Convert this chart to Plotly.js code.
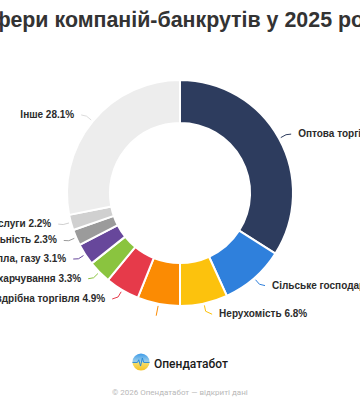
<!DOCTYPE html>
<html>
<head>
<meta charset="utf-8">
<script src="https://cdn.plot.ly/plotly-3.0.1.min.js"></script>
<style>
html,body{margin:0;padding:0;background:#fff;}
#chart{width:360px;height:400px;}
</style>
</head>
<body>
<div id="chart"></div>
<script>
const categories = [
  "Оптова торгівля",
  "Сільське господарство",
  "Нерухомість",
  "Будівництво",
  "Роздрібна торгівля",
  "Розміщення і харчування",
  "Постачання електроенергії, тепла, газу",
  "Професійна діяльність",
  "Інші послуги",
  "Інше"
];
const shares = [34.0, 9.2, 6.8, 6.1, 4.9, 3.3, 3.1, 2.3, 2.2, 28.1];
const sliceColors = ["#2d3c5e", "#2f80dc", "#fcc20d", "#fb8b03", "#e63a4a", "#8ac43f", "#67479b", "#9b9b9b", "#d0d0d0", "#ededed"];

const titleText = "Сфери компаній-банкрутів у 2025 році";
const brandText = "Опендатабот";
const footerText = "© 2026 Опендатабот — відкриті дані";

const W = 360, H = 400;
const PAD = 4;
const NB = "\u00A0".repeat(PAD);
const total = shares.reduce((a, b) => a + b, 0);
const midFrac = [];
shares.reduce((c, v) => { midFrac.push((c + v / 2) / total); return c + v; }, 0);
const onRight = midFrac.map(f => f < 0.5);
const labelTemplates = categories.map((c, i) => i === 3 ? "" :
  (onRight[i] ? NB + "%{label} %{value:.1f}%" : "%{label} %{value:.1f}%" + NB));

const donutDomain = {x: [0.186, 0.814], y: [0.235, 0.80]};
const labelDomain = {x: [0.1694, 0.8306], y: [0.222, 0.817]};

const logoSvg = '<svg xmlns="http://www.w3.org/2000/svg" width="40" height="40" viewBox="0 0 40 40">' +
  '<defs><linearGradient id="g" x1="0" y1="0" x2="0" y2="1">' +
  '<stop offset="0" stop-color="#3d9be9"/><stop offset="0.48" stop-color="#9fd0ea"/><stop offset="0.56" stop-color="#f5dc6a"/><stop offset="1" stop-color="#f6c324"/></linearGradient></defs>' +
  '<circle cx="20" cy="20" r="19" fill="url(#g)"/>' +
  '<polyline points="1,21 12,21 15,15 19,29 23,11 26,21 39,21" fill="none" stroke="#2b8bd6" stroke-width="2.2" stroke-linejoin="round"/>' +
  '</svg>';
const logoSrc = "data:image/svg+xml;base64," + btoa(logoSvg);

const labelFont = {family: "Liberation Sans, Arial, sans-serif", size: 10, color: "#2b2b2b", weight: "bold"};

const labelTrace = {
  type: "pie",
  labels: categories,
  values: shares,
  sort: false,
  direction: "clockwise",
  rotation: 0,
  marker: {colors: categories.map(() => "rgba(0,0,0,0)"), line: {width: 0}},
  texttemplate: labelTemplates,
  textposition: "outside",
  outsidetextfont: labelFont,
  automargin: false,
  hoverinfo: "skip",
  showlegend: false,
  domain: labelDomain
};

const donutTrace = {
  type: "pie",
  labels: categories,
  values: shares,
  sort: false,
  direction: "clockwise",
  rotation: 0,
  hole: 0.62,
  marker: {colors: sliceColors, line: {color: "#ffffff", width: 2}},
  textinfo: "none",
  automargin: false,
  hoverinfo: "skip",
  showlegend: false,
  domain: donutDomain
};

const layout = {
  width: W,
  height: H,
  margin: {l: 0, r: 0, t: 0, b: 0},
  paper_bgcolor: "#ffffff",
  showlegend: false,
  title: {
    text: titleText,
    font: {family: "Liberation Sans, Arial, sans-serif", size: 21.4, color: "#333333", weight: "bold"},
    x: 0.5, xanchor: "center", xref: "paper",
    y: 0.95, yanchor: "middle", yref: "container"
  },
  images: [{
    source: logoSrc, xref: "paper", yref: "paper",
    x: 0.3917, y: 0.095, sizex: 0.05, sizey: 0.045,
    xanchor: "center", yanchor: "middle", layer: "above"
  }],
  annotations: [
    {text: brandText, xref: "paper", yref: "paper", x: 0.422, y: 0.091, xanchor: "left", yanchor: "middle",
     showarrow: false, font: {family: "Roboto, Arial, sans-serif", size: 12, color: "#1a1a1a", weight: 500}},
    {text: footerText, xref: "paper", yref: "paper", x: 0.5, y: 0.02, xanchor: "center", yanchor: "middle",
     showarrow: false, font: {family: "Roboto, Arial, sans-serif", size: 8, color: "#b8b8b8"}}
  ]
};

Plotly.newPlot("chart", [labelTrace, donutTrace], layout, {displayModeBar: false, staticPlot: true}).then(gd => {
  const svgRect = gd.querySelector(".main-svg").getBoundingClientRect();
  const cx = W * (donutDomain.x[0] + donutDomain.x[1]) / 2;
  const cy = H * (1 - (donutDomain.y[0] + donutDomain.y[1]) / 2);
  const R = Math.min(W * (donutDomain.x[1] - donutDomain.x[0]), H * (donutDomain.y[1] - donutDomain.y[0])) / 2;
  const slices = gd.querySelectorAll(".pielayer .trace")[0].querySelectorAll("g.slice");
  const shapes = [];
  shares.forEach((v, i) => {
    const th = 2 * Math.PI * midFrac[i];
    const sx = Math.sin(th), sy = -Math.cos(th);
    const x0 = cx + (R + 2) * sx, y0 = cy + (R + 2) * sy;
    const x1 = cx + (R + 8) * sx, y1 = cy + (R + 8) * sy;
    let pts;
    const t = slices[i] ? slices[i].querySelector("text.slicetext") : null;
    if (t && t.textContent.trim()) {
      const b = t.getBoundingClientRect();
      const n = t.textContent.length;
      let padW = PAD * 2.78;
      try { padW = onRight[i] ? t.getSubStringLength(0, PAD) : t.getSubStringLength(n - PAD, PAD); } catch (e) {}
      const midY = b.top - svgRect.top + b.height / 2 + 0.5;
      const ex = onRight[i] ? (b.left - svgRect.left + padW - 7) : (b.right - svgRect.left - padW + 7);
      pts = [[x0, y0], [x1, y1], [ex, midY]];
    } else {
      pts = [[x0, y0], [cx + (R + 12) * sx, cy + (R + 12) * sy]];
    }
    const d = pts.map((p, k) => (k ? "L" : "M") + (p[0] / W).toFixed(5) + "," + (1 - p[1] / H).toFixed(5)).join(" ");
    shapes.push({type: "path", xref: "paper", yref: "paper", path: d,
      line: {color: sliceColors[i] === "#ededed" ? "#dcdcdc" : sliceColors[i], width: 1}});
  });
  return Plotly.relayout(gd, {shapes: shapes});
});
</script>
</body>
</html>
